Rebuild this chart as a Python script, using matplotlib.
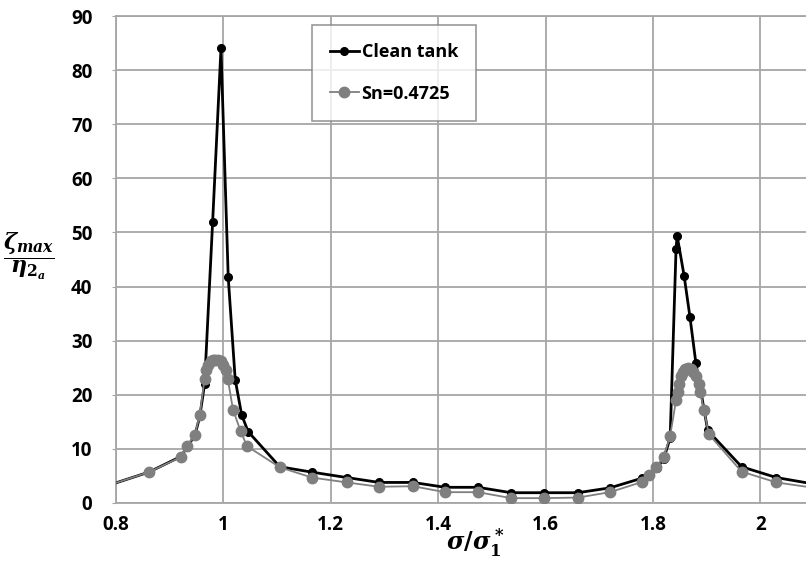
import matplotlib
matplotlib.use("Agg")
import matplotlib.pyplot as plt

# frequency ratio sigma/sigma_1* and peak elevation for each run
clean_x = [0.75, 0.861, 0.921, 0.932, 0.947, 0.956, 0.965, 0.98, 0.9955, 1.009,
           1.022, 1.034, 1.046, 1.105, 1.165, 1.23, 1.29, 1.353, 1.413, 1.474,
           1.536, 1.597, 1.66, 1.72, 1.78, 1.795, 1.808, 1.82, 1.832, 1.843,
           1.845, 1.858, 1.869, 1.880, 1.902, 1.965, 2.03, 2.1]
clean_y = [2.1, 5.7, 8.6, 10.3, 12.5, 16.0, 22.0, 52.0, 84.0, 41.7,
           22.8, 16.3, 13.2, 6.7, 5.7, 4.7, 3.8, 3.8, 2.9, 2.9,
           1.9, 1.9, 1.9, 2.8, 4.6, 5.3, 6.5, 8.2, 12.0, 47.0,
           49.4, 42.0, 34.3, 25.8, 13.4, 6.7, 4.7, 3.5]

sn_x = [0.75, 0.861, 0.921, 0.932, 0.947, 0.956, 0.965, 0.968, 0.972, 0.976,
        0.98, 0.985, 0.99, 0.995, 1.0, 1.005, 1.008, 1.018, 1.032, 1.044,
        1.105, 1.165, 1.23, 1.29, 1.353, 1.413, 1.474, 1.536, 1.597, 1.66,
        1.72, 1.78, 1.793, 1.806, 1.82, 1.832, 1.843, 1.846, 1.849, 1.852,
        1.856, 1.86, 1.865, 1.87, 1.875, 1.88, 1.885, 1.888, 1.895, 1.904,
        1.965, 2.03, 2.1]
sn_y = [2.1, 5.7, 8.5, 10.5, 12.6, 16.3, 23.0, 24.5, 25.5, 26.2,
        26.5, 26.5, 26.5, 26.3, 25.5, 24.5, 23.0, 17.2, 13.3, 10.5,
        6.6, 4.7, 3.8, 3.0, 3.1, 2.0, 2.0, 0.9, 0.9, 1.0,
        2.0, 3.9, 5.2, 6.7, 8.5, 12.4, 19.0, 20.5, 22.0, 23.5,
        24.3, 24.8, 25.0, 24.8, 24.3, 23.5, 22.0, 20.5, 17.2, 12.7,
        5.8, 3.8, 2.8]

x_ticks = [0.8, 1.0, 1.2, 1.4, 1.6, 1.8, 2.0]
x_tick_labels = ["0.8", "1", "1.2", "1.4", "1.6", "1.8", "2"]
y_ticks = [0, 10, 20, 30, 40, 50, 60, 70, 80, 90]

plt.rcParams["font.family"] = ["Open Sans", "DejaVu Sans"]
plt.rcParams["font.weight"] = "bold"
plt.rcParams["mathtext.fontset"] = "custom"
plt.rcParams["mathtext.it"] = "DejaVu Serif:italic:bold"
plt.rcParams["mathtext.rm"] = "DejaVu Serif:bold"
plt.rcParams["mathtext.bf"] = "DejaVu Serif:bold"

grid_col = "#a6a6a6"

fig = plt.figure(figsize=(8.06, 5.61), dpi=100)
ax = fig.add_axes([116 / 806, 1 - 503 / 561, 690 / 806, 487 / 561])

ax.plot(clean_x, clean_y, color="black", lw=2.0, marker="o", ms=5.5,
        label="Clean tank", zorder=3, clip_on=True)
ax.plot(sn_x, sn_y, color="#7f7f7f", lw=1.3, marker="o", ms=7.5,
        label="Sn=0.4725", zorder=4, clip_on=True)

ax.set_xlim(0.8, 2.085)
ax.set_ylim(0, 90)
ax.set_xticks(x_ticks)
ax.set_xticklabels(x_tick_labels)
ax.set_yticks(y_ticks)

ax.grid(True, color=grid_col, lw=1.3)
ax.set_axisbelow(True)
for side in ["left", "bottom", "top"]:
    ax.spines[side].set_color(grid_col)
    ax.spines[side].set_linewidth(1.3)
ax.spines["right"].set_visible(False)

ax.tick_params(axis="y", length=3, color=grid_col, pad=14, labelsize=13.5)
ax.tick_params(axis="x", length=0, pad=9, labelsize=13.5)
for lab in ax.get_xticklabels() + ax.get_yticklabels():
    lab.set_fontweight("bold")

leg = ax.legend(loc="upper left", bbox_to_anchor=(0.284, 0.981),
                frameon=True, fancybox=False, handlelength=1.6,
                handletextpad=0.15, labelspacing=1.3, borderpad=1.0,
                borderaxespad=0, prop={"weight": "bold", "size": 13})
leg.get_frame().set_edgecolor("#808080")
leg.get_frame().set_linewidth(1.2)

# axis titles
fig.text(475 / 806, 1 - 543 / 561, r"$\sigma/\sigma_1^*$", fontsize=17,
         ha="center", va="center")
fig.text(29 / 806, 1 - 256 / 561, r"$\dfrac{\zeta_{max}}{\eta_{2_a}}$",
         fontsize=16, ha="center", va="center")

fig.savefig("out.png", dpi=100)
